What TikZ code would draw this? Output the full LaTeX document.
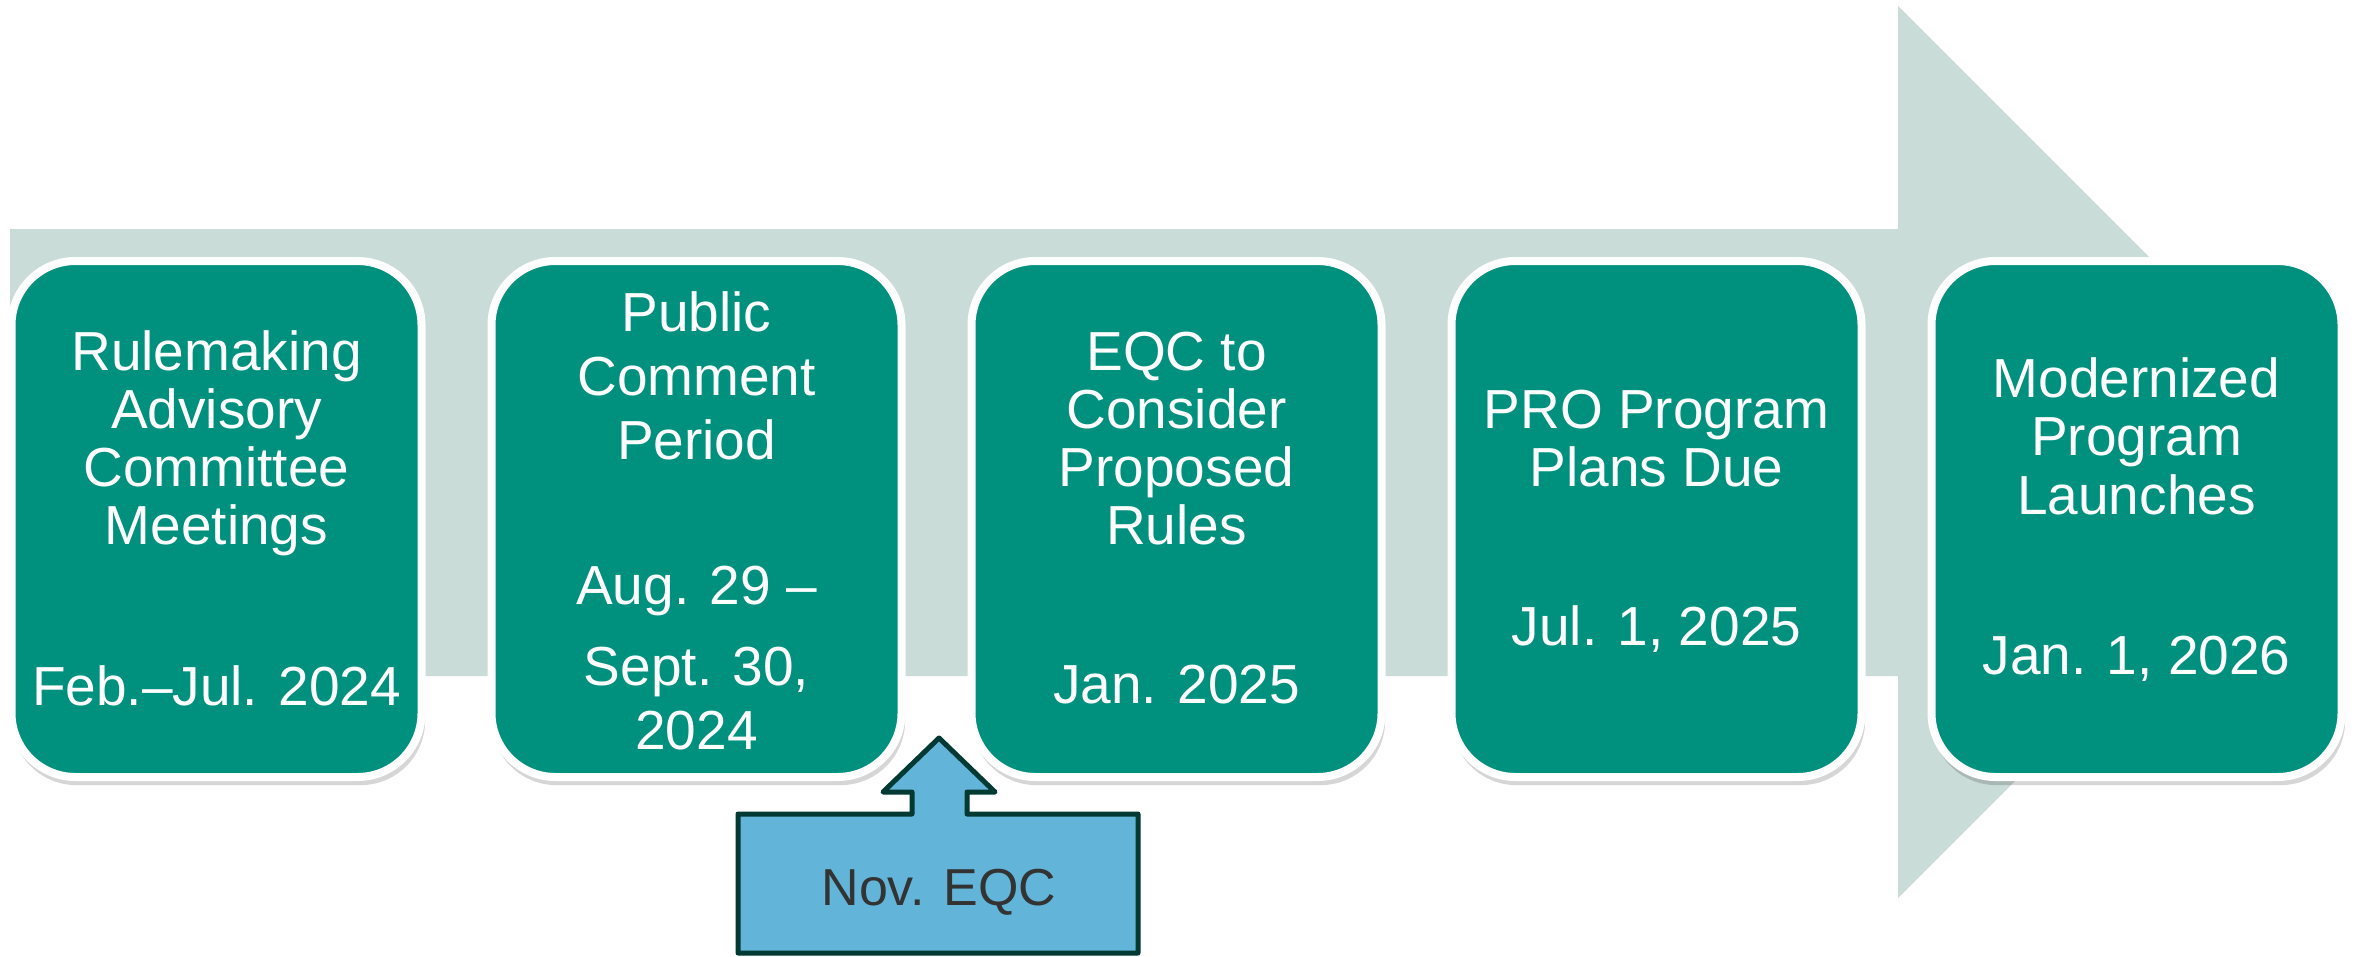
\documentclass[tikz,border=0pt]{standalone}
\usepackage{fontspec}
\setmainfont{Liberation Sans}
\usetikzlibrary{shadows}
\definecolor{arrowgray}{RGB}{202,220,215}
\definecolor{teal}{RGB}{0,145,126}
\definecolor{calloutblue}{RGB}{98,181,217}
\definecolor{calloutedge}{RGB}{0,58,50}
\definecolor{calltext}{RGB}{51,51,51}
\tikzset{
  stepbox/.style={rectangle, fill=teal, draw=white, line width=8pt,
    rounded corners=64pt, minimum width=410pt, minimum height=516pt, inner sep=0pt,
    drop shadow={shadow xshift=2pt, shadow yshift=-6pt, shadow scale=1.008, opacity=0.16, fill=black}},
  boxtext/.style={anchor=base, inner sep=0pt, text=white, font=\fontsize{55}{58}\selectfont},
  calltxt/.style={anchor=base, inner sep=0pt, text=calltext, font=\fontsize{52}{56}\selectfont},
  callout/.style={fill=calloutblue, draw=calloutedge, line width=5pt, line join=round}
}
\begin{document}
\begin{tikzpicture}[x=1pt,y=-1pt]
\useasboundingbox (0,0) rectangle (2361,956);
\fill[white] (0,0) rectangle (2361,956);
% big timeline arrow
\fill[arrowgray] (10,229) -- (1898,229) -- (1898,6) -- (2344,452) -- (1898,898) -- (1898,676) -- (10,676) -- cycle;
% boxes
\node[stepbox] (b1) at (216.5,519) {};
\node[stepbox] (b2) at (696.5,519) {};
\node[stepbox] (b3) at (1176.5,519) {};
\node[stepbox] (b4) at (1656.5,519) {};
\node[stepbox] (b5) at (2136.5,519) {};
% box 1
\node[boxtext] (t1a) at (216.5,370) {Rulemaking};
\node[boxtext] (t1b) at (216.5,428) {Advisory};
\node[boxtext] (t1c) at (216.5,486) {Committee};
\node[boxtext] (t1d) at (216.5,544) {Meetings};
\node[boxtext] (d1) at (216.5,705) {Feb.–Jul. 2024};
% box 2
\node[boxtext] (t2a) at (696.5,331) {Public};
\node[boxtext] (t2b) at (696.5,395) {Comment};
\node[boxtext] (t2c) at (696.5,459) {Period};
\node[boxtext] (d2a) at (696.5,604) {Aug. 29 –};
\node[boxtext] (d2b) at (696.5,685) {Sept. 30,};
\node[boxtext] (d2c) at (696.5,749) {2024};
% box 3
\node[boxtext] (t3a) at (1176.5,370) {EQC to};
\node[boxtext] (t3b) at (1176.5,428) {Consider};
\node[boxtext] (t3c) at (1176.5,486) {Proposed};
\node[boxtext] (t3d) at (1176.5,544) {Rules};
\node[boxtext] (d3) at (1176.5,703) {Jan. 2025};
% box 4
\node[boxtext] (t4a) at (1656.5,428) {PRO Program};
\node[boxtext] (t4b) at (1656.5,486) {Plans Due};
\node[boxtext] (d4) at (1656.5,645) {Jul. 1, 2025};
% box 5
\node[boxtext] (t5a) at (2136.5,397) {Modernized};
\node[boxtext] (t5b) at (2136.5,455) {Program};
\node[boxtext] (t5c) at (2136.5,514) {Launches};
\node[boxtext] (d5) at (2136.5,674) {Jan. 1, 2026};
% callout
\draw[callout] (738,814) -- (912,814) -- (912,792) -- (883,792) -- (939,738) -- (995,792) -- (967,792) -- (967,814) -- (1138,814) -- (1138,953) -- (738,953) -- cycle;
\node[calltxt] (nov) at (939,905) {Nov. EQC};
\end{tikzpicture}
\end{document}
